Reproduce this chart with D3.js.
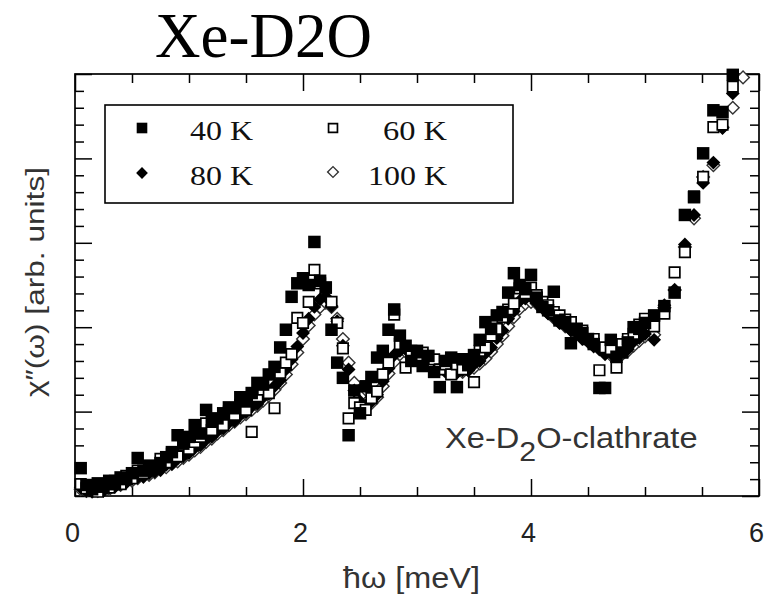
<!DOCTYPE html>
<html><head><meta charset="utf-8">
<script src="https://cdn.jsdelivr.net/npm/d3@7"></script>
<style>body{margin:0;background:#fff}</style>
</head><body>
<svg id="c" width="764" height="597"></svg>
<script>
// ---- data (energy in meV, chi'' in arbitrary units) ----
const energy = [
 0.05,0.10,0.15,0.20,0.25,0.30,0.35,0.40,0.45,0.50,
 0.55,0.60,0.65,0.70,0.75,0.80,0.85,0.90,0.95,1.00,
 1.05,1.10,1.15,1.20,1.25,1.30,1.35,1.40,1.45,1.50,
 1.55,1.60,1.65,1.70,1.75,1.80,1.85,1.90,1.95,2.00,
 2.05,2.10,2.15,2.20,2.25,2.30,2.35,2.40,2.45,2.50,
 2.55,2.60,2.65,2.70,2.75,2.80,2.85,2.90,2.95,3.00,
 3.05,3.10,3.15,3.20,3.25,3.30,3.35,3.40,3.45,3.50,
 3.55,3.60,3.65,3.70,3.75,3.80,3.85,3.90,3.95,4.00,
 4.05,4.10,4.15,4.20,4.25,4.30,4.35,4.40,4.45,4.50,
 4.55,4.60,4.65,4.70,4.75,4.80,4.85,4.90,4.95,5.00,
 5.08,5.17,5.26,5.35,5.43,5.51,5.60,5.68,5.77,5.86
];
const k40 = [
 0.33,0.13,0.08,0.15,0.11,0.18,0.14,0.22,0.20,0.27,
 0.45,0.30,0.36,0.34,0.39,0.46,0.52,0.72,0.62,0.70,
 0.84,0.74,1.02,0.88,0.92,0.98,1.05,1.04,1.17,1.12,
 1.22,1.34,1.32,1.44,1.53,1.76,1.97,2.36,2.52,2.58,
 2.50,3.01,2.55,2.47,1.97,1.58,1.40,0.72,1.25,0.98,
 1.30,1.41,1.64,1.72,1.97,2.21,1.90,1.78,1.60,1.72,
 1.54,1.66,1.47,1.29,1.60,1.64,1.29,1.62,1.55,1.67,
 1.85,2.06,1.98,2.14,2.18,2.41,2.64,2.50,2.45,2.62,
 2.35,2.24,2.20,2.42,2.08,2.05,1.81,1.98,1.93,1.86,
 1.80,1.28,1.28,1.85,1.65,1.70,1.82,2.00,1.98,2.05,
 2.14,2.25,2.41,3.33,3.54,4.06,4.57,4.55,4.99,null
];
const k60 = [
 0.14,0.09,0.12,0.05,0.13,0.10,0.18,0.14,0.24,0.21,
 0.30,0.27,0.35,0.33,0.44,0.40,0.50,0.47,0.60,0.56,
 0.64,0.70,0.86,0.78,0.88,0.84,1.00,0.96,1.08,1.02,
 0.76,1.18,1.26,1.22,1.04,1.46,1.58,1.68,2.11,2.05,
 2.30,2.68,2.52,2.47,2.30,2.05,1.75,0.92,1.10,1.05,
 1.02,1.16,1.24,1.44,1.58,2.15,1.80,1.52,1.72,1.60,
 1.70,1.54,1.62,1.50,1.56,1.44,1.56,1.50,1.58,1.35,
 1.72,1.76,1.90,1.98,2.12,2.21,2.28,2.46,2.40,2.47,
 2.38,2.30,2.26,2.18,2.14,2.09,2.06,1.98,1.96,1.86,
 1.86,1.49,1.76,1.74,1.52,1.80,1.86,1.92,2.03,2.10,
 2.01,2.16,2.65,2.89,3.55,3.78,4.37,4.40,4.85,null
];
const k80 = [
 0.10,0.06,0.05,0.08,0.06,0.10,0.11,0.15,0.16,0.20,
 0.22,0.23,0.27,0.29,0.31,0.37,0.38,0.44,0.47,0.51,
 0.57,0.60,0.67,0.70,0.77,0.80,0.87,0.89,0.96,0.99,
 1.06,1.09,1.17,1.21,1.30,1.37,1.50,1.62,1.77,1.93,
 2.10,2.24,2.33,2.36,2.25,2.07,1.78,1.50,1.25,1.12,
 1.07,1.12,1.20,1.36,1.51,1.67,1.72,1.74,1.68,1.65,
 1.58,1.56,1.52,1.51,1.47,1.48,1.46,1.49,1.49,1.56,
 1.60,1.69,1.76,1.87,1.96,2.10,2.19,2.31,2.34,2.36,
 2.29,2.24,2.16,2.12,2.05,2.02,1.96,1.93,1.86,1.83,
 1.77,1.74,1.68,1.69,1.67,1.72,1.74,1.83,1.87,1.92,
 1.85,2.26,2.44,2.98,3.33,3.71,3.95,4.36,4.77,null
];
const k100 = [
 0.08,0.06,0.07,0.06,0.08,0.08,0.12,0.13,0.17,0.18,
 0.21,0.23,0.25,0.28,0.31,0.34,0.38,0.41,0.45,0.49,
 0.54,0.58,0.64,0.68,0.74,0.78,0.84,0.88,0.93,0.97,
 1.02,1.07,1.13,1.19,1.26,1.34,1.44,1.56,1.70,1.86,
 2.02,2.15,2.24,2.29,2.24,2.10,1.86,1.58,1.34,1.18,
 1.10,1.10,1.17,1.30,1.45,1.59,1.68,1.71,1.70,1.66,
 1.61,1.57,1.54,1.51,1.49,1.47,1.47,1.47,1.49,1.52,
 1.57,1.63,1.71,1.80,1.90,2.01,2.12,2.22,2.28,2.30,
 2.28,2.23,2.17,2.11,2.06,2.01,1.97,1.92,1.88,1.83,
 1.79,1.74,1.70,1.67,1.66,1.68,1.72,1.78,1.84,1.89,
 1.91,2.23,2.44,2.95,3.29,3.78,3.92,4.37,4.60,4.96
];
const seriesNames = ["40 K","60 K","80 K","100 K"];
const xMajorTicks = [0,2,4,6];
const xTickLabels = ["0","2","4","6"];
const xMinorTicks = [0.5,1,1.5,2.5,3,3.5,4.5,5,5.5];
const yMajorTicks = [0,1,2,3,4,5];
const yMinorTicks = [0.2,0.4,0.6,0.8,1.2,1.4,1.6,1.8,2.2,2.4,2.6,2.8,3.2,3.4,3.6,3.8,4.2,4.4,4.6,4.8];

// ---- drawing ----
const svg = d3.select("#c");
const x = d3.scaleLinear().domain([0,6]).range([75,759]);
const y = d3.scaleLinear().domain([0,5]).range([496,74]);
const SANS = "'Liberation Sans', Arial, sans-serif";
const SERIF = "'Liberation Serif', 'Times New Roman', serif";

// title
svg.append("text").attr("x",155).attr("y",57)
  .attr("font-family",SERIF).attr("font-size",63).attr("fill","#000")
  .text("Xe-D2O");

function tidy(g, w){
  g.select(".domain").remove();
  g.selectAll(".tick line").attr("stroke","#000").attr("stroke-width",w||1.5);
}
// bottom major with labels
const gb = svg.append("g").attr("transform","translate(0,496)")
  .call(d3.axisBottom(x).tickValues(xMajorTicks).tickFormat((d,i)=>xTickLabels[i]).tickSize(-17).tickPadding(27));
tidy(gb);
gb.attr("font-family",SANS).attr("font-size",27);
gb.selectAll(".tick text").attr("fill","#222").attr("dx",-3);
svg.append("g").attr("transform","translate(0,496)")
  .call(d3.axisBottom(x).tickValues(xMinorTicks).tickFormat("").tickSize(-9)).call(tidy);
// top
svg.append("g").attr("transform","translate(0,74)")
  .call(d3.axisTop(x).tickValues(xMajorTicks).tickFormat("").tickSize(-17)).call(tidy);
svg.append("g").attr("transform","translate(0,74)")
  .call(d3.axisTop(x).tickValues(xMinorTicks).tickFormat("").tickSize(-9)).call(tidy);
// left
svg.append("g").attr("transform","translate(75,0)")
  .call(d3.axisLeft(y).tickValues(yMajorTicks).tickFormat("").tickSize(-17)).call(tidy);
svg.append("g").attr("transform","translate(75,0)")
  .call(d3.axisLeft(y).tickValues(yMinorTicks).tickFormat("").tickSize(-9)).call(tidy);
// right
svg.append("g").attr("transform","translate(759,0)")
  .call(d3.axisRight(y).tickValues(yMajorTicks).tickFormat("").tickSize(-17)).call(tidy);
svg.append("g").attr("transform","translate(759,0)")
  .call(d3.axisRight(y).tickValues(yMinorTicks).tickFormat("").tickSize(-9)).call(tidy);

// frame
svg.append("rect").attr("x",x(0)).attr("y",y(5)).attr("width",x(6)-x(0)).attr("height",y(0)-y(5))
  .attr("fill","none").attr("stroke","#000").attr("stroke-width",1.7);

// axis titles
svg.append("text").attr("x",343).attr("y",588)
  .attr("font-family",SANS).attr("font-size",30).attr("fill","#333")
  .attr("textLength",137).attr("lengthAdjust","spacingAndGlyphs")
  .text("\u0127\u03c9 [meV]");
svg.append("text").attr("transform","translate(44,282) rotate(-90)")
  .attr("text-anchor","middle")
  .attr("font-family",SANS).attr("font-size",25).attr("fill","#333")
  .attr("textLength",230).attr("lengthAdjust","spacingAndGlyphs")
  .text("\u03c7\u2033(\u03c9) [arb. units]");

// annotation
const ann = svg.append("text").attr("transform","translate(445,448) scale(1.125,1)")
  .attr("font-family",SANS).attr("font-size",29).attr("fill","#333");
ann.append("tspan").text("Xe-D");
ann.append("tspan").attr("dy",13).attr("font-size",27).text("2");
ann.append("tspan").attr("dy",-13).text("O-clathrate");

// markers
const styles = [
  {shape:"square", size:156, fill:"#000", stroke:"none", sw:0},
  {shape:"square", size:110, fill:"#fff", stroke:"#000", sw:1.7},
  {shape:"diamond", size:96, fill:"#000", stroke:"none", sw:0},
  {shape:"diamond", size:80, fill:"#fff", stroke:"#333", sw:1.4}
];
const seriesVals = [k40,k60,k80,k100];
const drawOrder = [3,2,1,0];
const sym = d3.symbol().type(d3.symbolSquare);
function place(sel, st, px, py, scale){
  const s = scale || 1;
  sel.attr("d", sym.size(st.size*s*s)())
    .attr("transform", `translate(${px},${py})` + (st.shape==="diamond" ? " rotate(45)" : ""))
    .attr("fill", st.fill).attr("stroke", st.stroke).attr("stroke-width", st.sw);
}
drawOrder.forEach(si => {
  const vals = seriesVals[si];
  const pts = energy.map((e,i)=>({e, v: vals[i]})).filter(d => d.v !== null);
  const g = svg.append("g").attr("class","series-"+si);
  g.selectAll("path").data(pts).enter().append("path")
    .each(function(d){ place(d3.select(this), styles[si], x(d.e), y(d.v)); });
});

// legend
const lg = svg.append("g");
lg.append("rect").attr("x",105).attr("y",105).attr("width",408).attr("height",98)
  .attr("fill","#fff").attr("stroke","#000").attr("stroke-width",1.6);
const legPos = [
  {mx:142, my:128, tx:190, ty:140, anchor:"start", len:63},
  {mx:333, my:128, tx:447, ty:140, anchor:"end", len:64},
  {mx:142, my:173, tx:190, ty:185, anchor:"start", len:63},
  {mx:333, my:172, tx:447, ty:185, anchor:"end", len:79}
];
seriesNames.forEach((name, i) => {
  const p = legPos[i];
  place(lg.append("path"), styles[i], p.mx, p.my, 0.85);
  lg.append("text").attr("x",p.tx).attr("y",p.ty).attr("text-anchor",p.anchor)
    .attr("font-family",SERIF).attr("font-size",28).attr("fill","#111")
    .attr("textLength",p.len).attr("lengthAdjust","spacingAndGlyphs")
    .text(name);
});
</script>
</body></html>
